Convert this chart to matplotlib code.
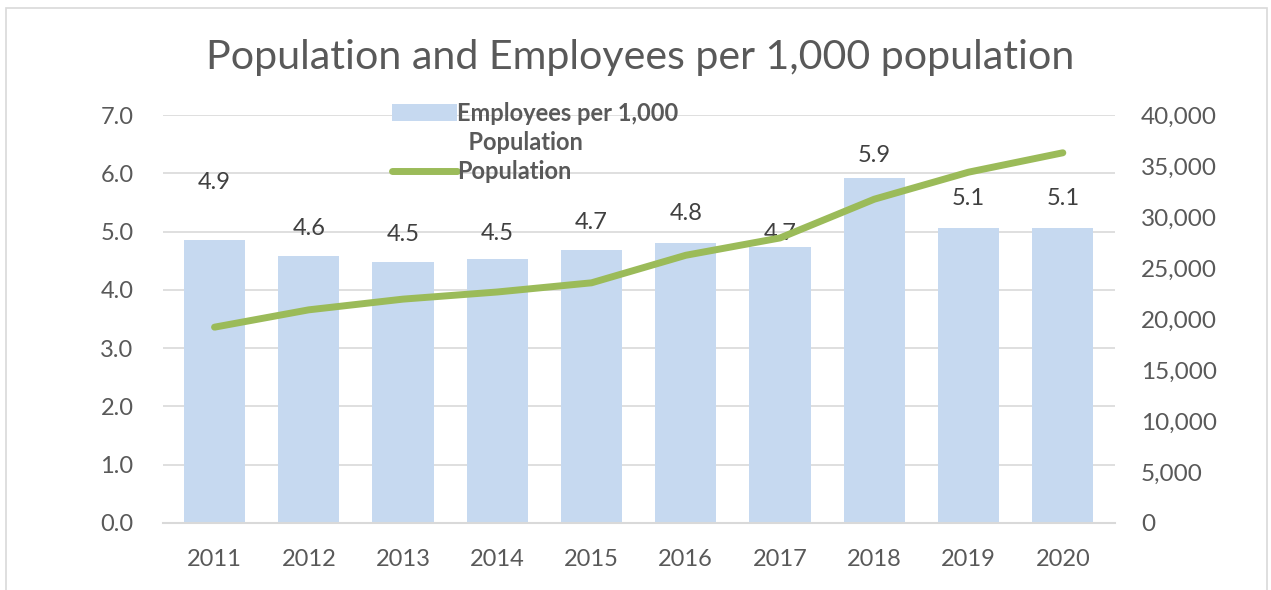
import matplotlib.pyplot as plt
from matplotlib.patches import Rectangle
from matplotlib.ticker import FuncFormatter

years = ['2011', '2012', '2013', '2014', '2015', '2016', '2017', '2018', '2019', '2020']
employees_per_1000 = [4.86, 4.58, 4.47, 4.53, 4.68, 4.81, 4.73, 5.92, 5.06, 5.06]
population = [19200, 20900, 21950, 22650, 23550, 26250, 27950, 31750, 34400, 36300]

# vertical offset of each value label above its bar (points)
label_offsets = [41, 20, 20, 18, 20, 21, 10, 16, 21, 21]

text_grey = '#595959'
grid_grey = '#d9d9d9'
bar_blue = '#c6d9f0'
line_green = '#9bbb59'

plt.rcParams['font.family'] = ['Lato', 'DejaVu Sans']

fig = plt.figure(figsize=(12.71, 5.9), dpi=100)
ax = fig.add_axes([0.128, 0.1136, 0.749, 0.6914])
ax2 = ax.twinx()

x = range(len(years))
bars = ax.bar(x, employees_per_1000, width=0.65, color=bar_blue, zorder=2)
line, = ax2.plot(x, population, color=line_green, linewidth=5,
                 solid_capstyle='round', zorder=3)

for i, v in enumerate(employees_per_1000):
    ax.annotate(f'{v:.1f}', (i, v), xytext=(0, label_offsets[i]),
                textcoords='offset points', ha='center', va='center',
                fontsize=17, color='#404040', zorder=4)

ax.set_xlim(-0.55, len(years) - 0.45)
ax.set_ylim(0, 7)
ax.set_yticks(range(8))
ax.yaxis.set_major_formatter(FuncFormatter(lambda v, p: f'{v:.1f}'))
ax2.set_ylim(0, 40000)
ax2.set_yticks(range(0, 40001, 5000))
ax2.yaxis.set_major_formatter(FuncFormatter(lambda v, p: f'{int(v):,}'))

ax.set_xticks(list(x))
ax.set_xticklabels(years)
ax.grid(axis='y', color=grid_grey, linewidth=1.2, zorder=0)
ax.set_axisbelow(True)

for a in (ax, ax2):
    for s in a.spines.values():
        s.set_visible(False)
    a.tick_params(length=0, labelsize=17, labelcolor=text_grey)
ax.spines['bottom'].set_visible(True)
ax.spines['bottom'].set_color(grid_grey)
ax.spines['bottom'].set_linewidth(1.5)
ax.tick_params(axis='x', pad=19)
ax.tick_params(axis='y', pad=21)
ax2.tick_params(axis='y', pad=19)
for t in ax2.get_yticklabels():
    t.set_fontsize(17.5)

# the bar label wraps onto a second row; a blank handle keeps the
# patch level with the first line of text
blank = Rectangle((0, 0), 1, 1, visible=False)
leg = fig.legend([bars, blank, line],
                 ['Employees per 1,000', '  Population', 'Population'],
                 loc='upper left', bbox_to_anchor=(392 / 1271, 1 - 102 / 590),
                 frameon=False, borderpad=0, borderaxespad=0,
                 handlelength=2.75, handletextpad=0.0, labelspacing=0.25,
                 prop={'weight': 'bold', 'size': 17})
for t in leg.get_texts():
    t.set_color(text_grey)

fig.text(0.504, 0.902, 'Population and Employees per 1,000 population',
         ha='center', va='center', fontsize=29.6, color=text_grey)

fig.patches.append(Rectangle((0.005, -0.1), 0.992, 1.086, transform=fig.transFigure,
                             fill=False, edgecolor=grid_grey, linewidth=1.2))

fig.savefig('out.png', dpi=100)
